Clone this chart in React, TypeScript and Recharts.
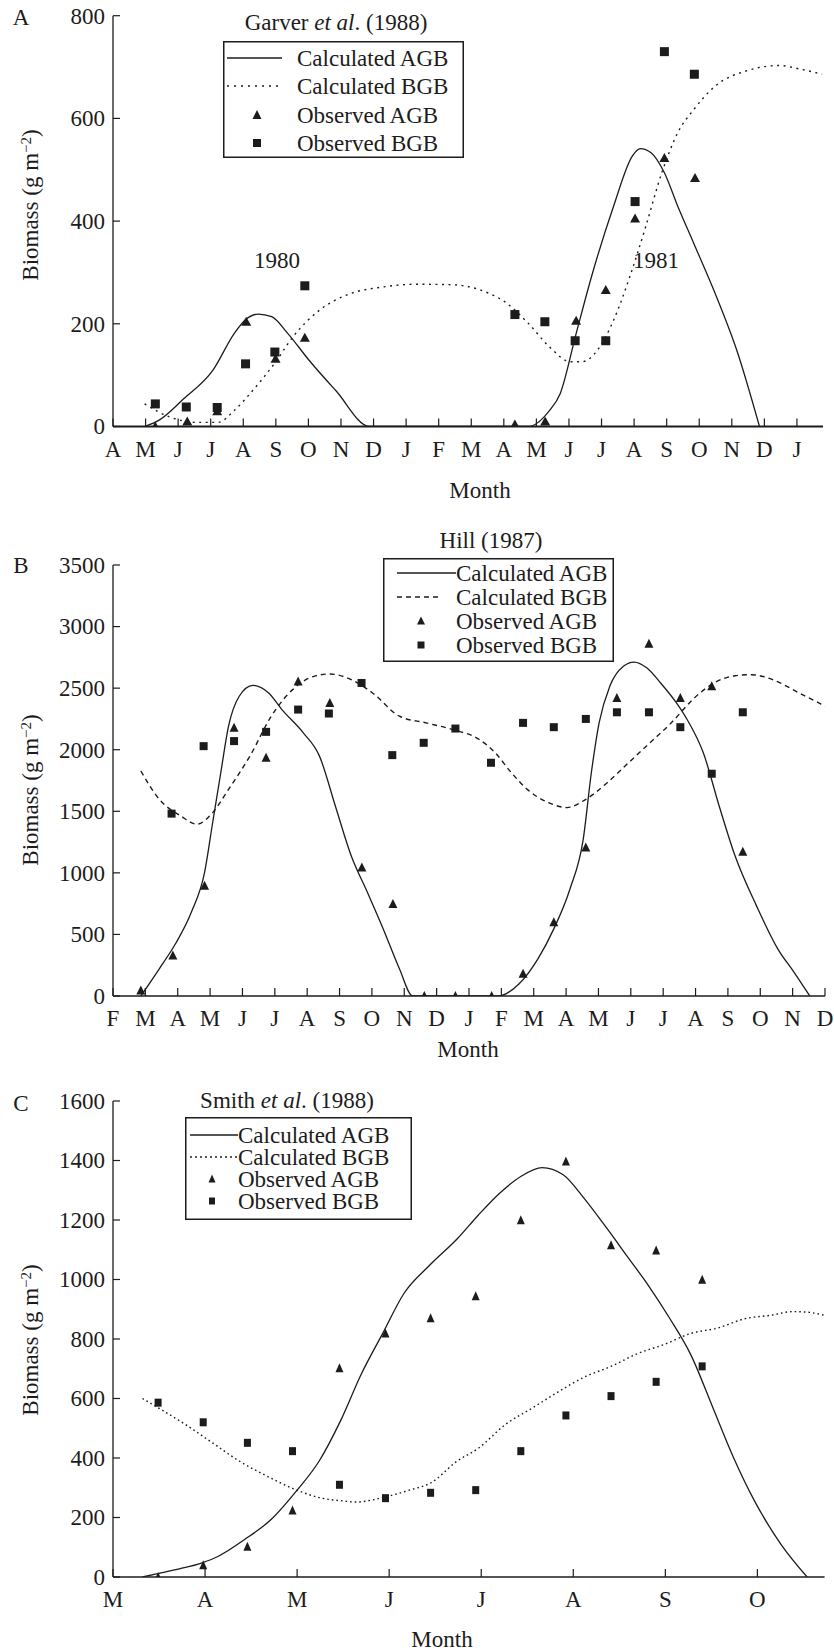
import React from 'react';
import { ComposedChart, Line, Scatter, XAxis, YAxis, Legend } from 'recharts';

const FONT = '"Liberation Serif", "Times New Roman", Times, serif';
const INK = '#1c1c1c';

const legendLabels = ['Calculated AGB', 'Calculated BGB', 'Observed AGB', 'Observed BGB'];

// ---------- Panel A: Garver et al. (1988) ----------
const garverMonths = ['A', 'M', 'J', 'J', 'A', 'S', 'O', 'N', 'D', 'J', 'F', 'M', 'A', 'M', 'J', 'J', 'A', 'S', 'O', 'N', 'D', 'J'];
const garverYTicks = [0, 200, 400, 600, 800];
const garverCalcAGB: [number, number][] = [
  [0.97, 0], [1.43, 13], [2.17, 54], [3.07, 110], [3.72, 181], [4.05, 207], [4.46, 219], [4.87, 214],
  [5.37, 181], [6.02, 129], [6.84, 70], [7.88, 0], [12.75, 0], [13.4, 31], [13.73, 64], [14.22, 181],
  [14.72, 298], [15.37, 429], [15.95, 527], [16.19, 541], [16.52, 533], [16.93, 494], [17.34, 429],
  [17.83, 357], [18.49, 259], [19.15, 149], [19.85, 0],
];
const garverCalcBGB: [number, number][] = [
  [0.97, 44], [1.76, 18], [2.58, 8], [3.23, 8], [3.72, 31], [4.38, 77], [4.95, 122], [5.53, 175],
  [6.35, 227], [7.17, 256], [8.32, 272], [9.3, 277], [10.45, 276], [11.27, 266], [12.09, 240],
  [12.75, 201], [13.4, 155], [14.06, 126], [14.39, 126], [14.88, 149], [15.37, 207], [15.87, 292],
  [16.36, 390], [16.85, 494], [17.34, 572], [17.83, 617], [18.49, 663], [19.47, 693], [20.46, 703],
  [21.1, 696], [21.77, 686],
];
const garverObsAGB: [number, number][] = [
  [1.3, 0], [2.28, 10], [3.2, 30], [4.09, 204], [4.99, 132], [5.89, 173], [12.34, 4], [13.27, 10],
  [14.22, 206], [15.13, 266], [16.03, 405], [16.93, 523], [17.87, 484],
];
const garverObsBGB: [number, number][] = [
  [1.3, 44], [2.25, 38], [3.2, 37], [4.07, 122], [4.97, 145], [5.89, 274], [12.34, 218], [13.26, 204],
  [14.19, 167], [15.13, 167], [16.03, 438], [16.93, 730], [17.85, 686],
];

// ---------- Panel B: Hill (1987) ----------
const hillMonths = ['F', 'M', 'A', 'M', 'J', 'J', 'A', 'S', 'O', 'N', 'D', 'J', 'F', 'M', 'A', 'M', 'J', 'J', 'A', 'S', 'O', 'N', 'D'];
const hillYTicks = [0, 500, 1000, 1500, 2000, 2500, 3000, 3500];
const hillCalcAGB: [number, number][] = [
  [0.86, 0], [1.43, 221], [1.93, 424], [2.42, 680], [2.83, 1004], [3.08, 1409], [3.33, 1813],
  [3.57, 2191], [3.9, 2434], [4.32, 2523], [4.81, 2461], [5.22, 2326], [5.88, 2137], [6.38, 1948],
  [6.87, 1543], [7.36, 1139], [7.86, 842], [8.35, 545], [8.85, 221], [9.26, 0], [11.9, 0],
  [12.55, 100], [13.13, 302], [13.62, 545], [14.12, 869], [14.53, 1274], [14.78, 1813], [15.02, 2218],
  [15.35, 2515], [15.77, 2677], [16.1, 2712], [16.5, 2663], [16.92, 2542], [17.41, 2380], [17.74, 2245],
  [18.24, 1975], [18.73, 1543], [19.22, 1139], [19.88, 734], [20.54, 383], [21.04, 194], [21.53, 0],
];
const hillCalcBGB: [number, number][] = [
  [0.86, 1827], [1.43, 1597], [2.09, 1463], [2.59, 1395], [3.08, 1489], [3.57, 1678], [4.23, 1948],
  [4.89, 2272], [5.55, 2488], [6.21, 2596], [6.7, 2615], [7.36, 2569], [8.02, 2461], [8.85, 2272],
  [9.67, 2218], [10.49, 2164], [11.32, 2083], [11.81, 1975], [12.31, 1813], [12.8, 1678], [13.46, 1570],
  [14.03, 1530], [14.61, 1597], [15.27, 1732], [15.93, 1894], [16.59, 2056], [17.25, 2218], [17.91, 2407],
  [18.57, 2542], [19.22, 2601], [19.72, 2609], [20.38, 2569], [21.2, 2461], [22, 2355],
];
const hillObsAGB: [number, number][] = [
  [0.86, 46], [1.85, 329], [2.83, 896], [3.74, 2178], [4.73, 1935], [5.72, 2555], [6.7, 2380],
  [7.69, 1044], [8.65, 747], [9.62, 0], [10.58, 0], [11.7, 0], [12.67, 181], [13.62, 599],
  [14.61, 1206], [15.57, 2420], [16.56, 2860], [17.53, 2420], [18.5, 2515], [19.46, 1171],
];
const hillObsBGB: [number, number][] = [
  [1.81, 1481], [2.8, 2029], [3.74, 2070], [4.73, 2145], [5.72, 2326], [6.67, 2294], [7.68, 2542],
  [8.63, 1956], [9.6, 2056], [10.58, 2172], [11.68, 1894], [12.67, 2218], [13.62, 2183], [14.61, 2250],
  [15.57, 2304], [16.56, 2304], [17.53, 2183], [18.5, 1805], [19.46, 2304],
];

// ---------- Panel C: Smith et al. (1988) ----------
const smithMonths = ['M', 'A', 'M', 'J', 'J', 'A', 'S', 'O'];
const smithYTicks = [0, 200, 400, 600, 800, 1000, 1200, 1400, 1600];
const smithCalcAGB: [number, number][] = [
  [0.32, 0], [0.5, 12], [0.73, 28], [0.96, 47], [1.14, 69], [1.43, 126], [1.72, 194], [2.0, 292],
  [2.24, 390], [2.47, 524], [2.7, 684], [2.93, 819], [3.16, 953], [3.45, 1051], [3.74, 1137],
  [3.97, 1217], [4.2, 1290], [4.43, 1346], [4.66, 1376], [4.89, 1352], [5.12, 1272], [5.36, 1174],
  [5.59, 1076], [5.82, 978], [6.05, 868], [6.28, 745], [6.51, 574], [6.74, 402], [6.97, 255],
  [7.26, 108], [7.54, 0],
];
const smithCalcBGB: [number, number][] = [
  [0.32, 600], [0.5, 567], [0.79, 512], [1.08, 451], [1.37, 390], [1.66, 341], [1.95, 298], [2.24, 267],
  [2.52, 255], [2.64, 252], [2.93, 267], [3.22, 292], [3.45, 316], [3.74, 390], [3.97, 433], [4.26, 512],
  [4.55, 567], [4.84, 623], [5.12, 672], [5.41, 708], [5.7, 751], [5.99, 782], [6.28, 819], [6.57, 837],
  [6.86, 868], [7.15, 880], [7.38, 892], [7.55, 890], [7.72, 880],
];
const smithObsAGB: [number, number][] = [
  [0.49, 0], [0.98, 40], [1.46, 102], [1.95, 224], [2.46, 702], [2.96, 819], [3.45, 870], [3.94, 944],
  [4.43, 1199], [4.92, 1397], [5.41, 1115], [5.9, 1098], [6.4, 999],
];
const smithObsBGB: [number, number][] = [
  [0.49, 586], [0.98, 520], [1.46, 451], [1.95, 423], [2.46, 310], [2.96, 265], [3.45, 283], [3.94, 292],
  [4.43, 423], [4.92, 543], [5.41, 608], [5.9, 656], [6.4, 708],
];

const pts = (arr: [number, number][]) => arr.map(([m, v]) => ({ m, v }));
const idx = (arr: string[]) => arr.map((_, i) => i);

const FS = 23;

function makeMonthTick(labels: string[]) {
  return (props: any) => {
    const { x, y, payload } = props;
    return (
      <g>
        <line x1={x} x2={x} y1={y} y2={y - 8} stroke={INK} strokeWidth={1.2} />
        <text x={x} y={y + 30} textAnchor="middle" fontFamily={FONT} fontSize={FS} fill={INK}>
          {labels[Math.round(payload.value)]}
        </text>
      </g>
    );
  };
}

function ValueTick(props: any) {
  const { x, y, payload } = props;
  return (
    <g>
      <line x1={x} x2={x + 7} y1={y} y2={y} stroke={INK} strokeWidth={1.2} />
      <text x={x - 8} y={y} dy="0.34em" textAnchor="end" fontFamily={FONT} fontSize={FS} fill={INK}>
        {payload.value}
      </text>
    </g>
  );
}

const triShape = (w: number, h: number) => (p: any) => {
  const { cx, cy } = p;
  if (cx == null || cy == null) return <g />;
  return (
    <polygon
      points={`${cx},${cy - h * 0.55} ${cx - w / 2},${cy + h * 0.45} ${cx + w / 2},${cy + h * 0.45}`}
      fill={INK}
    />
  );
};
const sqShape = (w: number, h: number) => (p: any) => {
  const { cx, cy } = p;
  if (cx == null || cy == null) return <g />;
  return <rect x={cx - w / 2} y={cy - h / 2} width={w} height={h} fill={INK} />;
};

type LegendCfg = {
  w: number; h: number; rows: number[]; lx1: number; lx2: number; dx2: number;
  mx: number; tx: number; dash: string; tri: [number, number]; sq: [number, number];
};

function LegendBox({ cfg }: { cfg: LegendCfg }) {
  const { w, h, rows, lx1, lx2, dx2, mx, tx, dash, tri, sq } = cfg;
  return (
    <svg width={w} height={h} style={{ display: 'block', overflow: 'visible' }}>
      <rect x={0.75} y={0.75} width={w - 1.5} height={h - 1.5} fill="#fff" stroke={INK} strokeWidth={1.5} />
      <line x1={lx1} x2={lx2} y1={rows[0]} y2={rows[0]} stroke={INK} strokeWidth={1.4} />
      <line x1={lx1} x2={dx2} y1={rows[1]} y2={rows[1]} stroke={INK} strokeWidth={1.5} strokeDasharray={dash} />
      <polygon
        points={`${mx},${rows[2] - tri[1] * 0.55} ${mx - tri[0] / 2},${rows[2] + tri[1] * 0.45} ${mx + tri[0] / 2},${rows[2] + tri[1] * 0.45}`}
        fill={INK}
      />
      <rect x={mx - sq[0] / 2} y={rows[3] - sq[1] / 2} width={sq[0]} height={sq[1]} fill={INK} />
      {legendLabels.map((t, i) => (
        <text key={t} x={tx} y={rows[i]} dy="0.35em" fontFamily={FONT} fontSize={FS} fill={INK}>
          {t}
        </text>
      ))}
    </svg>
  );
}

const Txt = ({ x, y, children, rot }: { x: number; y: number; children: any; rot?: boolean }) => (
  <div
    style={{
      position: 'absolute', left: x, top: y,
      transform: rot ? 'translate(-50%,-50%) rotate(-90deg)' : 'translate(-50%,-50%)',
      fontSize: FS, lineHeight: 1, whiteSpace: 'nowrap', fontFamily: FONT, color: INK,
    }}
  >
    {children}
  </div>
);

const YLab = () => (
  <span>
    Biomass (g m<sup style={{ fontSize: 15, lineHeight: 0, verticalAlign: '0.45em' }}>−2</sup>)
  </span>
);

type PanelProps = {
  top: number; height: number; margin: any; xMax: number; yMax: number;
  months: string[]; yTicks: number[];
  calcAGB: [number, number][]; calcBGB: [number, number][];
  obsAGB: [number, number][]; obsBGB: [number, number][];
  dash: string; tri: [number, number]; sq: [number, number];
  legendPos: { left: number; top: number }; legend: LegendCfg; axisW: number;
};

function Panel(p: PanelProps) {
  return (
    <div style={{ position: 'absolute', left: 0, top: p.top }}>
      <ComposedChart width={834} height={p.height} margin={p.margin}>
        <XAxis
          type="number" dataKey="m" domain={[0, p.xMax]} ticks={idx(p.months)} interval={0}
          allowDataOverflow tickLine={false} tickSize={0} tickMargin={0} height={40}
          tick={makeMonthTick(p.months)} axisLine={{ stroke: INK, strokeWidth: p.axisW }}
        />
        <YAxis
          type="number" dataKey="v" domain={[0, p.yMax]} ticks={p.yTicks} interval={0}
          allowDataOverflow tickLine={false} tickSize={0} tickMargin={0} width={113}
          tick={ValueTick} axisLine={{ stroke: INK, strokeWidth: 1.3 }}
        />
        <Legend
          layout="horizontal" verticalAlign="middle" align="center"
          wrapperStyle={{ left: p.legendPos.left, top: p.legendPos.top, width: p.legend.w, height: p.legend.h }}
          content={() => <LegendBox cfg={p.legend} />}
        />
        <Line data={pts(p.calcAGB)} dataKey="v" name="Calculated AGB" type="monotone" stroke={INK}
          strokeWidth={1.3} dot={false} activeDot={false} isAnimationActive={false} />
        <Line data={pts(p.calcBGB)} dataKey="v" name="Calculated BGB" type="monotone" stroke={INK}
          strokeWidth={1.4} strokeDasharray={p.dash} dot={false} activeDot={false} isAnimationActive={false} />
        <Scatter data={pts(p.obsAGB)} dataKey="v" name="Observed AGB" fill={INK}
          shape={triShape(p.tri[0], p.tri[1])} isAnimationActive={false} />
        <Scatter data={pts(p.obsBGB)} dataKey="v" name="Observed BGB" fill={INK}
          shape={sqShape(p.sq[0], p.sq[1])} isAnimationActive={false} />
      </ComposedChart>
    </div>
  );
}

export default function App() {
  return (
    <div style={{ position: 'absolute', left: 0, top: 0, width: 834, height: 1651, background: '#fff', fontFamily: FONT, overflow: 'hidden' }}>
      <Panel
        top={0} height={470} margin={{ top: 15.7, right: 11, bottom: 3.5, left: 0 }} xMax={21.8} yMax={800}
        months={garverMonths} yTicks={garverYTicks}
        calcAGB={garverCalcAGB} calcBGB={garverCalcBGB} obsAGB={garverObsAGB} obsBGB={garverObsBGB}
        dash="2 4.5" tri={[10, 9]} sq={[9, 9]} axisW={1.8}
        legendPos={{ left: 223, top: 41 }}
        legend={{ w: 241, h: 117, rows: [17, 45, 74, 102], lx1: 4, lx2: 59, dx2: 59, mx: 34, tx: 74, dash: '2 5', tri: [9, 9], sq: [8, 8] }}
      />
      <Panel
        top={530} height={540} margin={{ top: 35, right: 9, bottom: 34, left: 0 }} xMax={22} yMax={3500}
        months={hillMonths} yTicks={hillYTicks}
        calcAGB={hillCalcAGB} calcBGB={hillCalcBGB} obsAGB={hillObsAGB} obsBGB={hillObsBGB}
        dash="5 4" tri={[9, 9]} sq={[8, 8]} axisW={1.5}
        legendPos={{ left: 383, top: 28 }}
        legend={{ w: 231, h: 104, rows: [15, 39, 63, 87], lx1: 14, lx2: 73, dx2: 59, mx: 38, tx: 73, dash: '5 4', tri: [8, 8], sq: [7, 7] }}
      />
      <Panel
        top={1080} height={560} margin={{ top: 21, right: 9.4, bottom: 23, left: 0 }} xMax={7.73} yMax={1600}
        months={smithMonths} yTicks={smithYTicks}
        calcAGB={smithCalcAGB} calcBGB={smithCalcBGB} obsAGB={smithObsAGB} obsBGB={smithObsBGB}
        dash="1.6 3" tri={[8, 9]} sq={[7, 8]} axisW={1.5}
        legendPos={{ left: 185, top: 37 }}
        legend={{ w: 227, h: 103, rows: [18, 40, 62, 84], lx1: 5, lx2: 53, dx2: 53, mx: 27, tx: 53, dash: '2 3', tri: [7, 8], sq: [6, 7] }}
      />

      <Txt x={21} y={17}>A</Txt>
      <Txt x={336} y={22}>Garver <i>et al</i>. (1988)</Txt>
      <Txt x={277} y={260}>1980</Txt>
      <Txt x={656} y={260}>1981</Txt>
      <Txt x={480} y={490}>Month</Txt>
      <Txt x={30} y={205} rot><YLab /></Txt>

      <Txt x={21} y={565}>B</Txt>
      <Txt x={491} y={540}>Hill (1987)</Txt>
      <Txt x={468} y={1049}>Month</Txt>
      <Txt x={30} y={790} rot><YLab /></Txt>

      <Txt x={21} y={1103}>C</Txt>
      <Txt x={287} y={1100}>Smith <i>et al</i>. (1988)</Txt>
      <Txt x={442} y={1639}>Month</Txt>
      <Txt x={30} y={1340} rot><YLab /></Txt>
    </div>
  );
}
